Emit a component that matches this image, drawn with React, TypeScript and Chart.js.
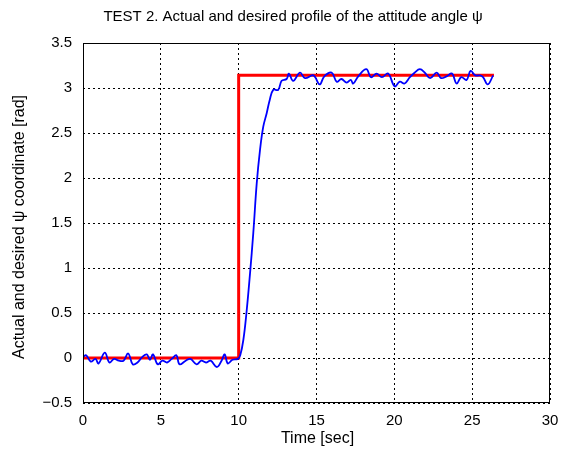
import React, { useEffect, useRef } from "react";
import { Chart, registerables } from "chart.js";

Chart.register(...registerables);

const titleText = "TEST 2. Actual and desired profile of the attitude angle ψ";
const xTitle = "Time [sec]";
const yTitle = "Actual and desired ψ coordinate [rad]";

const xTicks = [0, 5, 10, 15, 20, 25, 30];
const yTicks = [-0.5, 0, 0.5, 1, 1.5, 2, 2.5, 3, 3.5];

const desiredT = [0, 10, 10, 26.4];
const desiredV = [0, 0, 3.1416, 3.1416];

const actualT = [
  0, 0.2, 0.5, 0.8, 1.0, 1.4, 1.7, 2.0, 2.3, 2.6, 2.9, 3.2, 3.5, 3.8, 4.1, 4.3, 4.5, 4.8,
  5.1, 5.4, 5.7, 6.0, 6.2, 6.6, 6.9, 7.3, 7.6, 7.9, 8.2, 8.6, 8.9, 9.1, 9.3, 9.6, 9.95,
  10.1, 10.3, 10.5, 10.73, 10.94, 11.16, 11.37, 11.58, 11.8, 12.0, 12.22, 12.54, 12.76,
  13.08, 13.23, 13.5, 13.94, 14.26, 14.8, 15.2, 15.5, 15.97, 16.3, 16.6, 16.94, 17.2,
  17.36, 17.68, 18.2, 18.5, 18.86, 19.2, 19.6, 20.02, 20.35, 20.66, 21.0, 21.3, 21.64,
  21.96, 22.3, 22.72, 23.0, 23.36, 23.7, 24.0, 24.3, 24.64, 24.9, 25.2, 25.5, 25.7, 26.0,
  26.35,
];
const actualV = [
  0.01, 0.03, -0.04, -0.01, -0.06, 0.06, -0.05, -0.01, -0.03, -0.03, 0.05, -0.07, -0.05,
  0.01, 0.04, -0.02, 0.04, -0.07, -0.03, -0.05, -0.01, 0.03, -0.07, -0.03, -0.01, -0.07,
  -0.03, -0.05, -0.03, -0.1, -0.03, 0.04, -0.06, -0.02, -0.01,
  0.03, 0.2, 0.5, 0.94, 1.39, 1.94, 2.31, 2.57, 2.72, 2.87, 2.98, 2.98, 3.08,
  3.1, 3.16, 3.08, 3.17, 3.11, 3.14, 3.04, 3.13, 3.17, 3.07, 3.1, 3.06, 3.09,
  3.05, 3.13, 3.21, 3.12, 3.16, 3.12, 3.16, 3.02, 3.07, 3.05, 3.12, 3.17, 3.21,
  3.17, 3.11, 3.17, 3.11, 3.13, 3.16, 3.05, 3.12, 3.09, 3.19, 3.14, 3.14, 3.12, 3.04,
  3.14,
];

const FONT = "'Liberation Sans', Arial, sans-serif";

const framePlugin = {
  id: "frameAndTitles",
  afterDraw(chart: any) {
    const { ctx, chartArea } = chart;
    const { left, right, top, bottom } = chartArea;
    ctx.save();
    ctx.strokeStyle = "#000";
    ctx.lineWidth = 1;
    ctx.setLineDash([]);
    ctx.strokeRect(left + 0.5, top + 0.5, right - left - 1, bottom - top - 1);
    ctx.fillStyle = "#000";
    ctx.textAlign = "center";
    ctx.textBaseline = "middle";
    const cx = (left + right) / 2;
    ctx.font = `15px ${FONT}`;
    ctx.fillText(titleText, 293, 17);
    ctx.font = `16px ${FONT}`;
    ctx.fillText(xTitle, cx + 1, 439);
    ctx.translate(20, 227);
    ctx.rotate(-Math.PI / 2);
    ctx.fillText(yTitle, 0, 0);
    ctx.restore();
  },
};

export default function App() {
  const ref = useRef<HTMLCanvasElement | null>(null);
  useEffect(() => {
    if (!ref.current) return;
    const chart = new Chart(ref.current, {
      type: "scatter",
      data: {
        datasets: [
          {
            label: "desired",
            data: desiredT.map((t, i) => ({ x: t, y: desiredV[i] })),
            showLine: true,
            borderColor: "#ff0000",
            borderWidth: 3,
            pointRadius: 0,
            tension: 0,
            order: 2,
          },
          {
            label: "actual",
            data: actualT.map((t, i) => ({ x: t, y: actualV[i] })),
            showLine: true,
            borderColor: "#0000ff",
            borderWidth: 1.8,
            pointRadius: 0,
            tension: 0.4,
            order: 1,
          },
        ],
      },
      options: {
        animation: false,
        responsive: false,
        maintainAspectRatio: false,
        layout: { padding: { top: 43, right: 0, left: 0, bottom: 0 } },
        plugins: { legend: { display: false }, tooltip: { enabled: false }, title: { display: false } },
        scales: {
          x: {
            type: "linear",
            min: 0,
            max: 30,
            afterBuildTicks: (s: any) => {
              s.ticks = xTicks.map((v) => ({ value: v }));
            },
            afterFit: (s: any) => {
              s.height = 53;
              s.paddingRight = 11;
              s.paddingLeft = 0;
            },
            border: { display: false },
            grid: {
              color: "#000",
              lineWidth: 1,
              drawTicks: false,
            },
            ticks: {
              color: "#000",
              font: { family: FONT, size: 15 },
              padding: 9,
              maxRotation: 0,
              callback: (v: any) => String(v),
            },
          },
          y: {
            type: "linear",
            min: -0.5,
            max: 3.5,
            afterBuildTicks: (s: any) => {
              s.ticks = yTicks.map((v) => ({ value: v }));
            },
            afterFit: (s: any) => {
              s.width = 83;
            },
            border: { display: false },
            grid: {
              color: "#000",
              lineWidth: 1,
              drawTicks: false,
            },
            ticks: {
              color: "#000",
              font: { family: FONT, size: 15 },
              padding: 11,
              callback: (v: any) => String(v).replace("-", "\u2212"),
            },
          },
        },
      },
      plugins: [
        {
          id: "dashGrid",
          beforeDraw(chart: any) {
            ["x", "y"].forEach((k) => {
              const sc = chart.scales[k];
              if (sc && sc.options && sc.options.border) {
                sc.options.border.dash = [2, 3];
              }
            });
          },
        },
        framePlugin,
      ],
    } as any);
    return () => chart.destroy();
  }, []);
  return (
    <div style={{ position: "fixed", left: 0, top: 0, width: 561, height: 456, background: "#fff" }}>
      <canvas ref={ref} width={561} height={456} style={{ width: 561, height: 456 }} />
    </div>
  );
}
